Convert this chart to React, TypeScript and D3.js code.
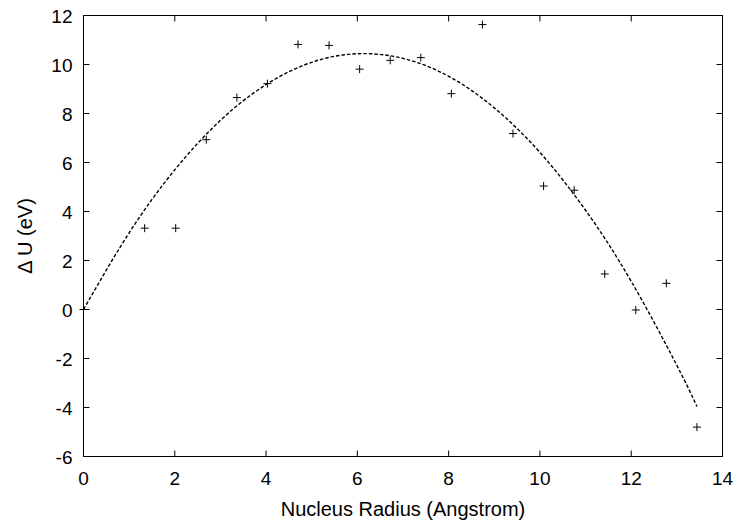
import React from "react";
import * as d3 from "d3";

const radius = [0, 1.34, 2.02, 2.69, 3.36, 4.03, 4.70, 5.38, 6.05, 6.72, 7.39, 8.06, 8.74, 9.41, 10.08, 10.75, 11.42, 12.10, 12.77, 13.44];
const deltaU = [0, 3.32, 3.32, 6.93, 8.65, 9.22, 10.82, 10.78, 9.81, 10.17, 10.28, 8.81, 11.63, 7.18, 5.04, 4.87, 1.45, -0.02, 1.07, -4.8];

const fitX = [0, 1, 2, 3, 4, 5, 6, 7, 8, 9, 10, 11, 12, 13, 13.44];
const fitY = [0, 3.13, 5.70, 7.72, 9.18, 10.09, 10.44, 10.25, 9.52, 8.23, 6.41, 4.05, 1.15, -2.28, -3.96];

const xTicks = [0, 2, 4, 6, 8, 10, 12, 14];
const yTicks = [-6, -4, -2, 0, 2, 4, 6, 8, 10, 12];

const W = 735, H = 525;
const FONT = "'Liberation Sans', Arial, Helvetica, sans-serif";

export default function App() {
  const x = d3.scaleLinear().domain([0, 14]).range([83.5, 722.5]);
  const y = d3.scaleLinear().domain([-6, 12]).range([456.5, 15.5]);
  const line = d3
    .line<number>()
    .x((_, i) => x(fitX[i]))
    .y((d) => y(d))
    .curve(d3.curveNatural);
  const tl = 6;
  const x0 = x(0), x1 = x(14), y0 = y(-6), y1 = y(12);
  return (
    <svg width={W} height={H} style={{ position: "absolute", left: 0, top: 0, background: "#fff" }}>
      <rect x={0} y={0} width={W} height={H} fill="#fff" />
      <g stroke="#000" strokeWidth={1}>
        {xTicks.map((t) => (
          <g key={"xt" + t}>
            <line x1={x(t)} x2={x(t)} y1={y0} y2={y0 - tl} />
            <line x1={x(t)} x2={x(t)} y1={y1} y2={y1 + tl} />
          </g>
        ))}
        {yTicks.map((t) => (
          <g key={"yt" + t}>
            <line x1={x0} x2={x0 + tl} y1={y(t)} y2={y(t)} />
            <line x1={x1} x2={x1 - tl} y1={y(t)} y2={y(t)} />
          </g>
        ))}
        <rect x={x0} y={y1} width={x1 - x0} height={y0 - y1} fill="none" />
      </g>
      <path d={line(fitY) || ""} fill="none" stroke="#000" strokeWidth={1.4} strokeDasharray="3.5,2" />
      <g stroke="#000" strokeWidth={1}>
        {radius.map((r, i) => (
          <g key={"p" + i}>
            <line x1={x(r) - 4} x2={x(r) + 4} y1={y(deltaU[i])} y2={y(deltaU[i])} />
            <line x1={x(r)} x2={x(r)} y1={y(deltaU[i]) - 4} y2={y(deltaU[i]) + 4} />
          </g>
        ))}
      </g>
      <g fontFamily={FONT} fontSize={19} fill="#000">
        {xTicks.map((t) => (
          <text key={"xl" + t} x={x(t)} y={485} textAnchor="middle">
            {t}
          </text>
        ))}
        {yTicks.map((t) => (
          <text key={"yl" + t} x={72.5} y={y(t) + 7} textAnchor="end">
            {t}
          </text>
        ))}
      </g>
      <text x={(x0 + x1) / 2} y={516} textAnchor="middle" fontFamily={FONT} fontSize={20}>
        Nucleus Radius (Angstrom)
      </text>
      <text
        transform={`translate(32, ${(y0 + y1) / 2}) rotate(-90)`}
        textAnchor="middle"
        fontFamily={FONT}
        fontSize={20}
      >
        Δ U (eV)
      </text>
    </svg>
  );
}
